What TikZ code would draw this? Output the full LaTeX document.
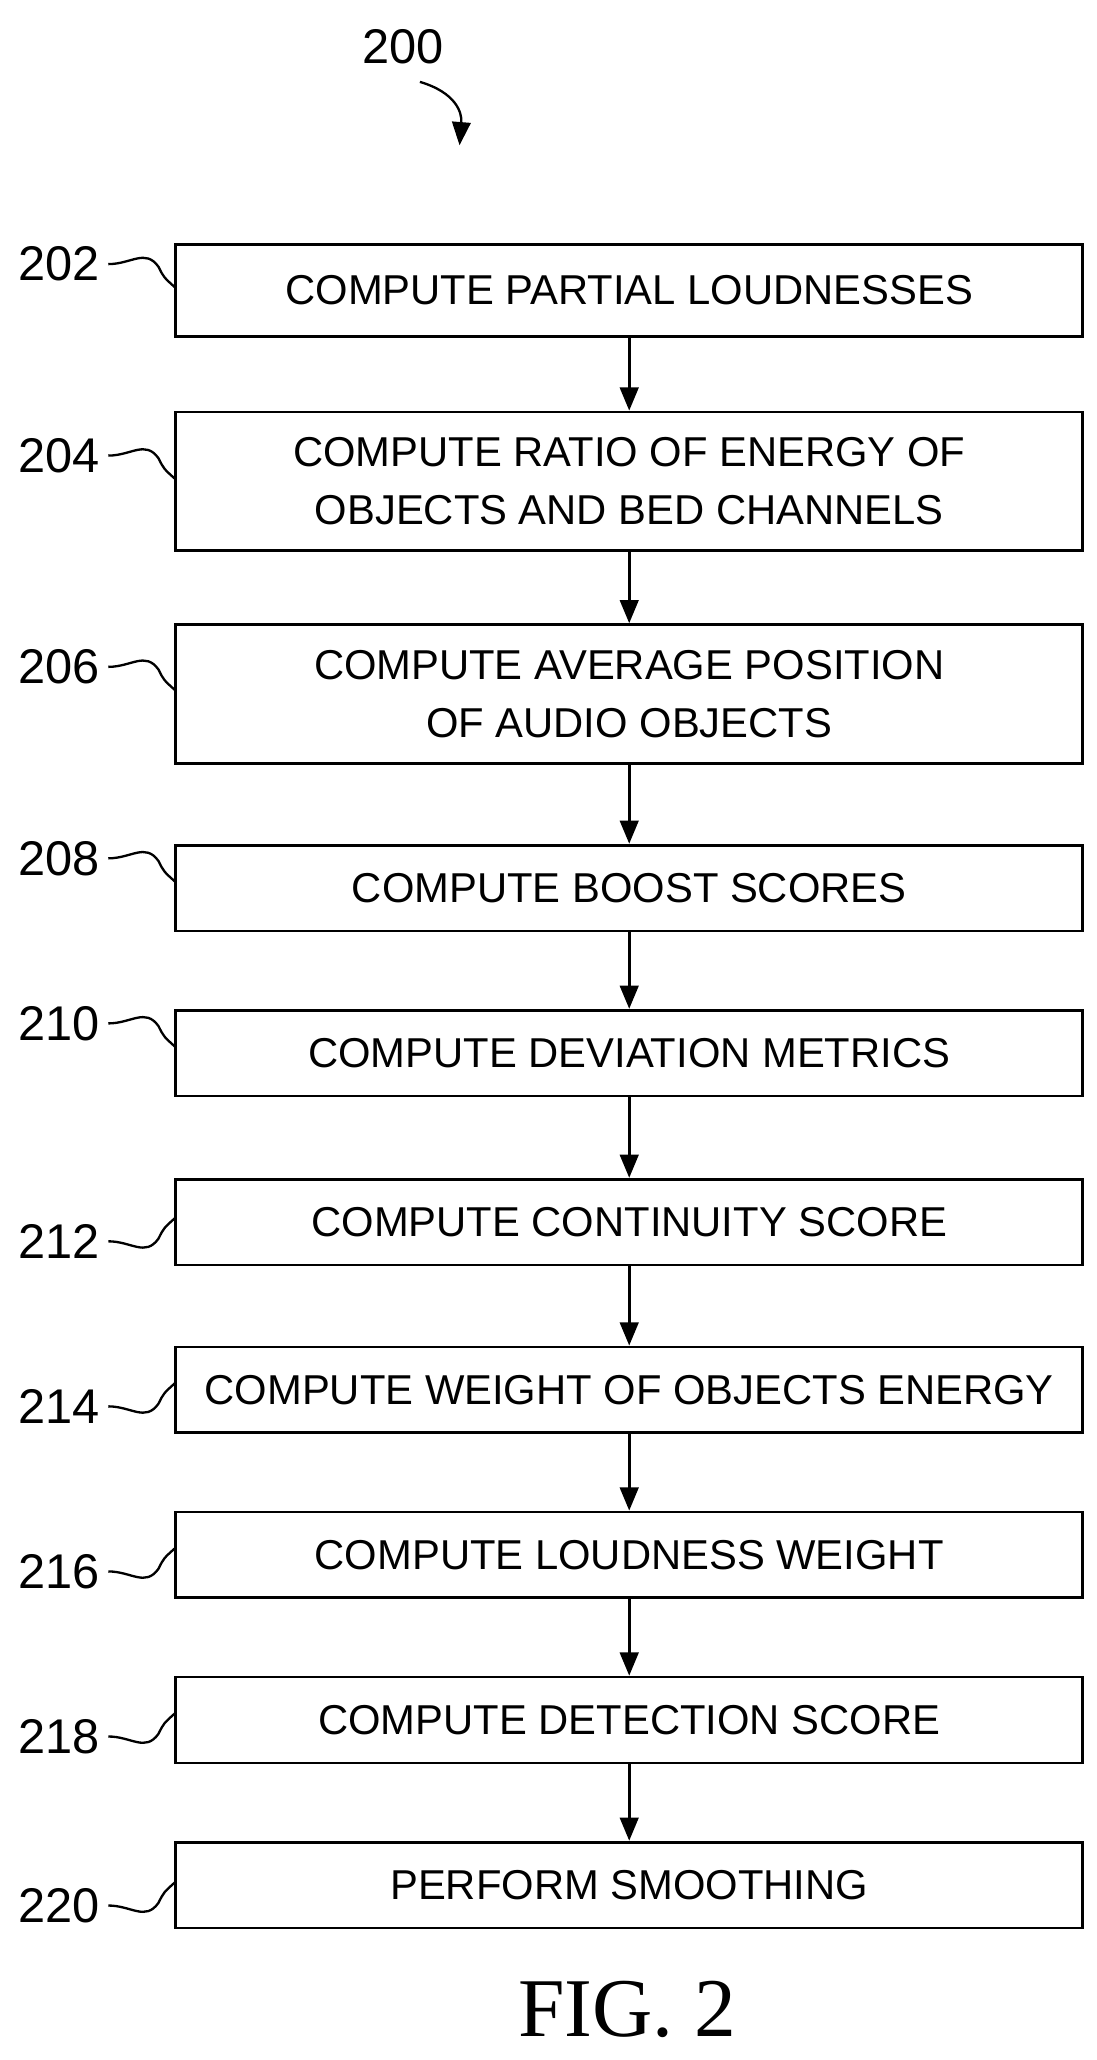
\documentclass[tikz,border=0pt]{standalone}
\usepackage{fontspec}
\setmainfont{Liberation Sans}
\newfontfamily\figfont{Liberation Serif}
\usetikzlibrary{positioning,arrows.meta}
\tikzset{%
  block/.style = {draw, line width=1.2pt, rectangle, minimum width=13.74cm,
    align=center, font=\fontsize{18}{25}\selectfont},
  tag/.style   = {font=\fontsize{21}{26}\selectfont, anchor=east}, % step number
  lead/.style  = {line width=1pt}
}
\begin{document}
\begin{tikzpicture}[x=0.02cm, y=-0.02cm, >={Triangle[length=10pt,width=8pt]}]
  \useasboundingbox (0,0) rectangle (830,1560);

  \node at (305,35) [font=\fontsize{21}{26}\selectfont] (fig) {200};
  \coordinate (figtip) at (348,110);
  \draw[lead,->] (318,62) .. controls (345,70) and (350,85) .. (figtip);

  \node at (476.5,220) [block, minimum height=1.4cm] (b202) {COMPUTE PARTIAL LOUDNESSES};
  \node at (476.5,364.5) [block, minimum height=2.1cm] (b204) {COMPUTE RATIO OF ENERGY OF\\OBJECTS AND BED CHANNELS};
  \node at (476.5,525.5) [block, minimum height=2.1cm] (b206) {COMPUTE AVERAGE POSITION\\OF AUDIO OBJECTS};
  \node at (476.5,672.5) [block, minimum height=1.3cm] (b208) {COMPUTE BOOST SCORES};
  \node at (476.5,797.5) [block, minimum height=1.3cm] (b210) {COMPUTE DEVIATION METRICS};
  \node at (476.5,925.5) [block, minimum height=1.3cm] (b212) {COMPUTE CONTINUITY SCORE};
  \node at (476.5,1052.5) [block, minimum height=1.3cm] (b214) {COMPUTE WEIGHT OF OBJECTS ENERGY};
  \node at (476.5,1177.5) [block, minimum height=1.3cm] (b216) {COMPUTE LOUDNESS WEIGHT};
  \node at (476.5,1302.5) [block, minimum height=1.3cm] (b218) {COMPUTE DETECTION SCORE};
  \node at (476.5,1427.5) [block, minimum height=1.3cm] (b220) {PERFORM SMOOTHING};

  \foreach \a/\b in {b202/b204, b204/b206, b206/b208, b208/b210, b210/b212,
                     b212/b214, b214/b216, b216/b218, b218/b220}
    \draw[line width=1.2pt, ->] (\a) -- (\b);

  % numbers above the leader
  \foreach \n/\y in {202/200, 204/345, 206/505, 208/650, 210/775}{
    \node[tag] at (82,\y) (t\n) {\n};
    \draw[lead] (t\n.east) .. controls ([xshift=10pt]t\n.east) and (110,\y-12) .. (120,\y+2)
      .. controls (124,\y+10) .. (133,\y+18);
  }
  % numbers below the leader
  \foreach \n/\y in {212/940, 214/1065, 216/1190, 218/1315, 220/1443}{
    \node[tag] at (82,\y) (t\n) {\n};
    \draw[lead] (t\n.east) .. controls ([xshift=10pt]t\n.east) and (110,\y+12) .. (120,\y-2)
      .. controls (124,\y-10) .. (133,\y-18);
  }

  \node at (475,1522) [font=\fontsize{36}{40}\selectfont\figfont] (cap) {FIG. 2};
\end{tikzpicture}
\end{document}
